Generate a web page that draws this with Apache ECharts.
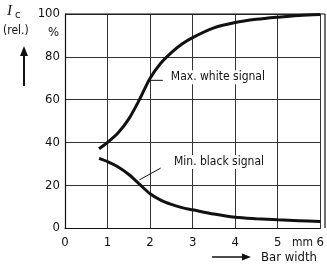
<!DOCTYPE html>
<html lang="en">
<head>
<meta charset="UTF-8">
<title>Ic vs bar width</title>
<script src="https://cdn.jsdelivr.net/npm/echarts@6/dist/echarts.min.js"></script>
<style>
  html, body { margin: 0; padding: 0; background: #fff; }
  #chart_div { width: 327px; height: 269px; }
</style>
</head>
<body>
<div id="chart_div"></div>
<script type="text/javascript">
// bar width in mm
var barWidth = [0.8, 1, 1.25, 1.5, 1.75, 2, 2.25, 2.5, 2.75, 3, 3.5, 4, 4.5, 5, 5.5, 6];
// relative Ic in %
var maxWhite = [37, 40, 44.5, 51, 60, 70, 77, 82, 86, 89, 93.5, 96, 97.5, 98.5, 99.3, 99.8];
var minBlack = [32.5, 31, 28.5, 25, 20.5, 16, 13, 11, 9.5, 8.5, 6.5, 5, 4.3, 3.8, 3.4, 3];
var xTicks = [0, 1, 2, 3, 4, 5, 6];
var yTicks = [0, 20, 40, 60, 80, 100];

var font = "'Liberation Sans Narrow', 'DejaVu Sans Condensed', 'Liberation Sans', sans-serif";

function pairs(xs, ys) {
    var out = [];
    for (var i = 0; i < xs.length; i++) out.push([xs[i], ys[i]]);
    return out;
}

var chart = echarts.init(document.getElementById("chart_div"));
var options = {
    animation: false,
    grid: { left: 65, right: 2, top: 14, bottom: 41 },
    xAxis: {
        type: 'value', min: xTicks[0], max: xTicks[xTicks.length - 1], interval: 1,
        axisLine: { lineStyle: { color: '#111', width: 1.2 } },
        axisTick: { show: false },
        axisLabel: { color: '#111', fontFamily: font, fontSize: 13, margin: 8, showMaxLabel: true },
        splitLine: { show: true, lineStyle: { color: '#333', width: 1 } }
    },
    yAxis: {
        type: 'value', min: yTicks[0], max: yTicks[yTicks.length - 1], interval: 20,
        axisLine: { show: true, lineStyle: { color: '#111', width: 1.2 } },
        axisTick: { show: false },
        axisLabel: { color: '#111', fontFamily: font, fontSize: 13, margin: 5 },
        splitLine: { show: true, lineStyle: { color: '#333', width: 1 } }
    },
    series: [
        {
            name: 'Max. white signal', type: 'line', smooth: 0.3, symbol: 'none',
            lineStyle: { color: '#111', width: 3 },
            data: pairs(barWidth, maxWhite)
        },
        {
            name: 'Min. black signal', type: 'line', smooth: 0.3, symbol: 'none',
            lineStyle: { color: '#111', width: 3 },
            data: pairs(barWidth, minBlack)
        }
    ]
};
chart.setOption(options);

// annotations placed via the chart's own coordinate system
function px(x, y) { return chart.convertToPixel({ gridIndex: 0 }, [x, y]); }
var wA = px(2.0, 69), wB = px(2.3, 69);
var bA = px(1.75, 22.5), bB = px(2.25, 28);

chart.setOption({
    graphic: [
        // border on top and right
        { type: 'line', shape: { x1: 65, y1: 14, x2: 325, y2: 14 }, style: { stroke: '#111', lineWidth: 1.2 } },
        { type: 'line', shape: { x1: 325, y1: 14, x2: 325, y2: 228 }, style: { stroke: '#111', lineWidth: 1.2 } },
        // leader lines
        { type: 'line', shape: { x1: wA[0], y1: wA[1], x2: wB[0], y2: wB[1] }, style: { stroke: '#111', lineWidth: 1 } },
        { type: 'line', shape: { x1: bA[0], y1: bA[1], x2: bB[0], y2: bB[1] }, style: { stroke: '#111', lineWidth: 1 } },
        { type: 'text', x: wB[0] + 6, y: wB[1] - 3, style: { text: 'Max. white signal', font: '12px ' + font, fill: '#111', verticalAlign: 'middle', backgroundColor: '#fff', padding: [1, 2] } },
        { type: 'text', x: 172, y: 162, style: { text: 'Min. black signal', font: '12px ' + font, fill: '#111', verticalAlign: 'middle', backgroundColor: '#fff', padding: [1, 2] } },
        // y axis title
        { type: 'text', x: 7, y: 4, style: { text: 'I', font: 'italic 15px "Liberation Serif", serif', fill: '#111' } },
        { type: 'text', x: 15, y: 10, style: { text: 'c', font: '11px ' + font, fill: '#111' } },
        { type: 'text', x: 3, y: 25, style: { text: '(rel.)', font: '12px ' + font, fill: '#111' } },
        { type: 'text', x: 48, y: 26, style: { text: '%', font: '13px ' + font, fill: '#111' } },
        { type: 'line', shape: { x1: 24, y1: 86, x2: 24, y2: 54 }, style: { stroke: '#111', lineWidth: 2 } },
        { type: 'polygon', shape: { points: [[24, 46], [20, 56], [28, 56]] }, style: { fill: '#111' } },
        // x axis unit and title
        { type: 'text', x: 292, y: 237, style: { text: 'mm', font: '12px ' + font, fill: '#111' } },
        { type: 'line', shape: { x1: 212, y1: 257, x2: 243, y2: 257 }, style: { stroke: '#111', lineWidth: 1.5 } },
        { type: 'polygon', shape: { points: [[251, 257], [242, 253.5], [242, 260.5]] }, style: { fill: '#111' } },
        { type: 'text', x: 261, y: 251, style: { text: 'Bar width', font: '13px ' + font, fill: '#111' } }
    ]
});
</script>
</body>
</html>
